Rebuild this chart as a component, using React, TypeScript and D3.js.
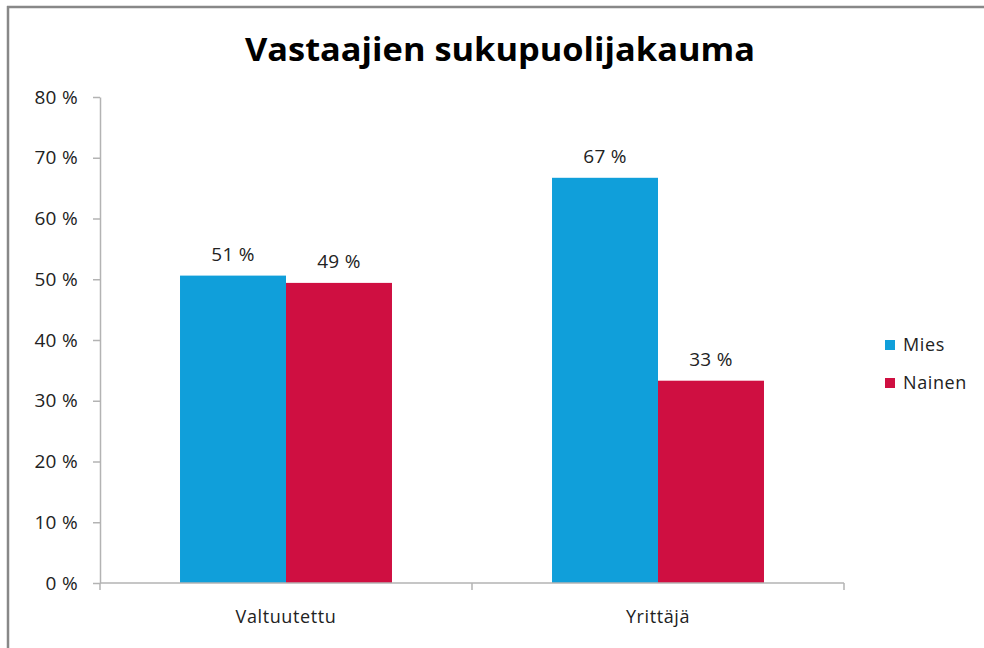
import React, { useEffect, useRef } from 'react'
import * as d3 from 'd3'

const categories = ['Valtuutettu', 'Yrittäjä']
const seriesNames = ['Mies', 'Nainen']
const mies = [50.6, 66.7]
const nainen = [49.4, 33.3]
const yTicks = [0, 10, 20, 30, 40, 50, 60, 70, 80]
const colors = ['#109fda', '#cf0f41']

const W = 984
const H = 648
const FONT = '"Open Sans", sans-serif'

export default function App () {
  const ref = useRef<SVGSVGElement>(null)

  useEffect(() => {
    const svg = d3.select(ref.current)
    svg.selectAll('*').remove()

    svg.append('rect')
      .attr('width', W).attr('height', H)
      .attr('fill', '#fff')

    // outer chart frame: only left and top edges are in view
    svg.append('line')
      .attr('x1', 8).attr('x2', 8).attr('y1', 6).attr('y2', H)
      .attr('stroke', '#888').attr('stroke-width', 2.5)
    svg.append('line')
      .attr('x1', 7).attr('x2', W).attr('y1', 7).attr('y2', 7)
      .attr('stroke', '#888').attr('stroke-width', 2.5)

    svg.append('text')
      .attr('x', 500).attr('y', 61)
      .attr('text-anchor', 'middle')
      .attr('font-family', FONT)
      .attr('font-weight', 'bold')
      .attr('font-size', 32)
      .attr('textLength', 510)
      .attr('lengthAdjust', 'spacingAndGlyphs')
      .attr('fill', '#000')
      .text('Vastaajien sukupuolijakauma')

    const left = 100
    const right = 844
    const top = 97
    const bottom = 583

    const y = d3.scaleLinear().domain([0, 80]).range([bottom, top])
    const x0 = d3.scaleBand().domain(categories).range([left, right])
    const x1 = d3.scaleBand().domain(seriesNames).range([0, x0.bandwidth()]).paddingOuter(0.755)

    // y axis
    const yAxis = svg.append('g')
      .attr('transform', `translate(${left},0)`)
      .call(d3.axisLeft(y).tickValues(yTicks).tickSize(7).tickSizeOuter(0).tickPadding(15)
        .tickFormat((d) => `${d} %`))
    yAxis.select('.domain').attr('stroke', '#b3b3b3').attr('stroke-width', 1.5)
    yAxis.selectAll('.tick line').attr('stroke', '#b3b3b3').attr('stroke-width', 1.5)
    yAxis.selectAll('.tick text')
      .attr('font-family', FONT).attr('font-size', 19).attr('fill', '#222')
      .attr('letter-spacing', 0.3)

    // bars
    const data = categories.map((c, i) => ({ cat: c, vals: [mies[i], nainen[i]] }))
    const groups = svg.selectAll('.grp').data(data).enter().append('g')
      .attr('transform', (d) => `translate(${x0(d.cat)},0)`)
    groups.selectAll('rect')
      .data((d) => d.vals.map((v, j) => ({ s: seriesNames[j], v, j })))
      .enter().append('rect')
      .attr('x', (d) => x1(d.s) as number)
      .attr('width', x1.bandwidth())
      .attr('y', (d) => y(d.v))
      .attr('height', (d) => bottom - y(d.v))
      .attr('fill', (d) => colors[d.j])
    groups.selectAll('text')
      .data((d) => d.vals.map((v, j) => ({ s: seriesNames[j], v, j })))
      .enter().append('text')
      .attr('x', (d) => (x1(d.s) as number) + x1.bandwidth() / 2)
      .attr('y', (d) => y(d.v) - 15)
      .attr('text-anchor', 'middle')
      .attr('font-family', FONT).attr('font-size', 19).attr('fill', '#222')
      .attr('letter-spacing', 0.3)
      .text((d) => `${Math.round(d.v)} %`)

    // x axis
    const xAxis = svg.append('g')
      .attr('transform', `translate(0,${bottom})`)
    xAxis.append('line')
      .attr('x1', left).attr('x2', right)
      .attr('stroke', '#b3b3b3').attr('stroke-width', 1.5)
    const bounds = categories.map((c) => x0(c) as number).concat([right])
    xAxis.selectAll('.xt').data(bounds).enter().append('line')
      .attr('x1', (d) => d).attr('x2', (d) => d)
      .attr('y1', 0).attr('y2', 7)
      .attr('stroke', '#b3b3b3').attr('stroke-width', 1.5)
    xAxis.selectAll('.xl').data(categories).enter().append('text')
      .attr('x', (d) => (x0(d) as number) + x0.bandwidth() / 2)
      .attr('y', 40)
      .attr('text-anchor', 'middle')
      .attr('font-family', FONT).attr('font-size', 18).attr('fill', '#222')
      .attr('letter-spacing', 0.6)
      .text((d) => d)

    // legend
    const legend = svg.selectAll('.leg').data(seriesNames).enter().append('g')
      .attr('transform', (d, i) => `translate(885,${340 + i * 38})`)
    legend.append('rect')
      .attr('width', 10).attr('height', 10)
      .attr('fill', (d, i) => colors[i])
    legend.append('text')
      .attr('x', 18).attr('y', 11)
      .attr('font-family', FONT).attr('font-size', 18).attr('fill', '#222')
      .attr('letter-spacing', 0.6)
      .text((d) => d)
  }, [])

  return (
    <svg ref={ref} width={W} height={H}
      style={{ position: 'absolute', left: 0, top: 0, display: 'block', overflow: 'hidden' }} />
  )
}
